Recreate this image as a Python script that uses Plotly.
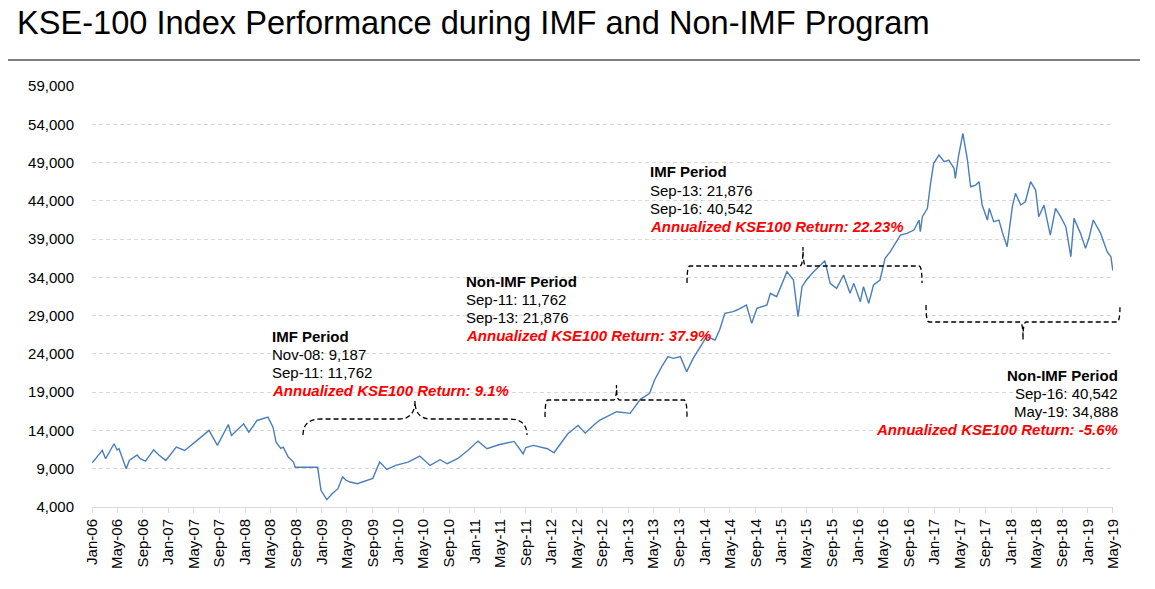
import plotly.graph_objects as go

# ---- data (KSE-100 index level) ----
dates = [
    "2006-01-02", "2006-02-19", "2006-03-07", "2006-04-16", "2006-05-01", "2006-05-10", "2006-06-13", "2006-06-28",
    "2006-08-04", "2006-08-19", "2006-09-13", "2006-10-22", "2006-11-16", "2006-12-19", "2007-02-07", "2007-03-19", "2007-05-07",
    "2007-07-13", "2007-08-22", "2007-10-13", "2007-10-28", "2007-12-25", "2008-01-19", "2008-02-27",
    "2008-04-19", "2008-05-13", "2008-05-28", "2008-06-19", "2008-07-01", "2008-07-25", "2008-08-19", "2008-08-27",
    "2008-12-12", "2008-12-28", "2009-01-25", "2009-02-19", "2009-03-19", "2009-04-10", "2009-04-25", "2009-05-16",
    "2009-06-19", "2009-08-07", "2009-09-01", "2009-10-04", "2009-11-07", "2009-12-19", "2010-02-16", "2010-04-13",
    "2010-06-01", "2010-07-19", "2010-08-22", "2010-10-10", "2010-11-28", "2011-01-16", "2011-02-28",
    "2011-04-25", "2011-07-07", "2011-08-19", "2011-09-01", "2011-10-07", "2011-12-13", "2012-01-13",
    "2012-03-19", "2012-05-07", "2012-06-10", "2012-07-28", "2012-08-19", "2012-11-07", "2013-01-10",
    "2013-02-28", "2013-04-13", "2013-05-07", "2013-06-10", "2013-07-10", "2013-08-04", "2013-09-07",
    "2013-10-07", "2013-11-07", "2013-12-10", "2014-01-10", "2014-02-19", "2014-03-13", "2014-04-07",
    "2014-05-16", "2014-06-04", "2014-07-19", "2014-08-13", "2014-09-07", "2014-10-25", "2014-11-10",
    "2014-12-10", "2015-01-04", "2015-01-28", "2015-02-28", "2015-03-22", "2015-04-10", "2015-05-01",
    "2015-06-04", "2015-06-28", "2015-07-28", "2015-08-22", "2015-09-22", "2015-10-25", "2015-11-25",
    "2015-12-13", "2016-01-13", "2016-01-28", "2016-02-22", "2016-03-16", "2016-04-16", "2016-05-10",
    "2016-06-04", "2016-06-28", "2016-07-22", "2016-08-22", "2016-09-25", "2016-10-19", "2016-10-25",
    "2016-11-04", "2016-11-28", "2016-12-13", "2016-12-28", "2017-01-22", "2017-02-16", "2017-03-10",
    "2017-04-04", "2017-04-10", "2017-04-25", "2017-05-16", "2017-06-07", "2017-06-22", "2017-07-16",
    "2017-08-01", "2017-08-16", "2017-09-10", "2017-09-19", "2017-10-10", "2017-11-04", "2017-11-22",
    "2017-12-13", "2018-01-07", "2018-01-22", "2018-02-16", "2018-03-10", "2018-04-04", "2018-04-28",
    "2018-05-13", "2018-06-07", "2018-07-07", "2018-08-01", "2018-08-25", "2018-09-19", "2018-10-13",
    "2018-10-28", "2018-11-28", "2018-12-22", "2019-01-07", "2019-01-28", "2019-03-04", "2019-04-04",
    "2019-04-22", "2019-05-01",
]
kse100 = [
    9783, 11391, 10304, 12261, 11452, 11609, 9000, 10087,
    10793, 10304, 10000, 11478, 10793, 10087, 11826, 11391, 12478,
    14000, 12043, 14783, 13348, 14870, 13783, 15304,
    15739, 14435, 12478, 11668, 11826, 10522, 9870, 9187,
    9187, 6174, 4957, 5739, 6391, 7960, 7525, 7261,
    7043, 7478, 7742, 9870, 8913, 9435, 9870, 10652,
    9435, 10174, 9652, 10304, 11391, 12609, 11609,
    12130, 12565, 10957, 11762, 12043, 11609, 11087,
    13565, 14652, 13652, 14870, 15365, 16452, 16235,
    18065, 18848, 20590, 22331, 23637, 23420, 23637,
    21680, 23420, 24943, 26250, 25815, 27122, 29298,
    29515, 29734, 30387, 27993, 29952, 30387, 31911,
    31476, 33217, 34741, 33654, 28860, 32782, 33654,
    34741, 35394, 36178, 33217, 32564, 34306, 31911,
    33217, 30823, 32782, 30605, 33000, 33654, 36489,
    37350, 38447, 39531, 39749, 40184, 41490, 39967,
    41925, 43013, 46279, 48892, 49982, 49108, 49329,
    48244, 46938, 49761, 52818, 49329, 45841, 46061,
    46497, 43450, 41490, 43013, 41272, 41490, 39749,
    38008, 43230, 44979, 43450, 43883, 46497, 45411,
    41925, 43450, 39531, 43013, 41925, 40619, 36700,
    41708, 39749, 37788, 39100, 41490, 39749, 37350,
    36700, 34900,
]
y_tick_values = [4000, 9000, 14000, 19000, 24000, 29000, 34000, 39000, 44000, 49000, 54000, 59000]

title_text = "KSE-100 Index Performance during IMF and Non-IMF Program"
period_texts = [
    ["IMF Period", "Nov-08: 9,187", "Sep-11: 11,762", "Annualized KSE100 Return: 9.1%"],
    ["Non-IMF Period", "Sep-11: 11,762", "Sep-13: 21,876", "Annualized KSE100 Return: 37.9%"],
    ["IMF Period", "Sep-13: 21,876", "Sep-16: 40,542", "Annualized KSE100 Return: 22.23%"],
    ["Non-IMF Period", "Sep-16: 40,542", "May-19: 34,888", "Annualized KSE100 Return: -5.6%"],
]

# ---- layout helpers (pixel box of the plot area) ----
W, H = 1155, 589
L, R, T, B = 92, 1113, 86, 507
FONT = "Arial, 'Liberation Sans', sans-serif"


def fx(px):
    return (px - L) / (R - L)


def fy(py):
    return (B - py) / (B - T)


fig = go.Figure(
    go.Scatter(x=dates, y=kse100, mode="lines",
               line=dict(color="#4a7ebb", width=1.4), hoverinfo="skip")
)

fig.update_layout(
    width=W, height=H,
    margin=dict(l=L, r=W - R, t=T, b=H - B, pad=0),
    plot_bgcolor="white", paper_bgcolor="white",
    showlegend=False,
    font=dict(family=FONT, color="black", size=15),
    title=dict(text=title_text, font=dict(family=FONT, size=32.6, color="black"),
               xref="container", yref="container", x=17 / W, xanchor="left",
               y=1 - 23 / H, yanchor="middle"),
)

fig.update_xaxes(
    type="date", range=["2006-01-01", "2019-05-02"],
    tickmode="linear", tick0="2006-01-01", dtick="M4", tickformat="%b-%y",
    tickangle=-90, showgrid=False, zeroline=False,
    showline=True, linecolor="#d9d9d9", linewidth=1,
    ticks="outside", ticklen=5, tickcolor="#d9d9d9",
    tickfont=dict(family=FONT, size=15, color="black"),
)
fig.update_yaxes(
    range=[4000, 59000], tickmode="array", tickvals=y_tick_values, tickformat=",d",
    showgrid=True, gridcolor="#d9d9d9", griddash="4px,3px", gridwidth=1,
    zeroline=False, showline=False, ticks="", ticklabelstandoff=17,
    tickfont=dict(family=FONT, size=15, color="black"),
)

# ---- title underline ----
shapes = [dict(type="line", xref="paper", yref="paper", x0=fx(8), x1=fx(1140),
               y0=fy(60), y1=fy(60), line=dict(color="black", width=1.2))]


def brace(x0, x1, yl, ye, tx, ty, re, rt):
    p = (f"M {fx(x0)},{fy(ye)} Q {fx(x0)},{fy(yl)} {fx(x0 + re)},{fy(yl)} "
         f"L {fx(tx - rt)},{fy(yl)} Q {fx(tx)},{fy(yl)} {fx(tx)},{fy(ty)} "
         f"Q {fx(tx)},{fy(yl)} {fx(tx + rt)},{fy(yl)} "
         f"L {fx(x1 - re)},{fy(yl)} Q {fx(x1)},{fy(yl)} {fx(x1)},{fy(ye)}")
    return dict(type="path", xref="paper", yref="paper", path=p,
                line=dict(color="black", width=1.3, dash="5px,3px"))


shapes.append(brace(303, 527, 419, 435, 415, 401, 18, 16))
shapes.append(brace(545, 687, 400, 417, 616.5, 385, 3, 3))
shapes.append(brace(687, 922, 266, 283, 803, 247, 3, 3))
shapes.append(brace(926, 1120, 322, 305, 1023, 340, 3, 3))
fig.update_layout(shapes=shapes)

# ---- period annotations ----
groups = [
    (272, [336, 354, 372, 390.5], "left"),
    (466, [281, 299, 317.3, 335], "left"),
    (650, [171.7, 190, 208.3, 226.7], "left"),
    (1118, [375, 393, 411, 429], "right"),
]
annotations = []
for (gx, ys, anchor), lines in zip(groups, period_texts):
    for i, (line, yy) in enumerate(zip(lines, ys)):
        if i == 0:
            txt, col = f"<b>{line}</b>", "black"
        elif i == 3:
            txt, col = f"<b><i>{line}</i></b>", "#ff0000"
        else:
            txt, col = line, "black"
        xpx = gx - 2 if anchor == "left" else gx + 2
        annotations.append(dict(text=txt, xref="paper", yref="paper", x=fx(xpx), y=fy(yy),
                                xanchor=anchor, yanchor="middle", showarrow=False,
                                font=dict(family=FONT, size=15, color=col)))
fig.update_layout(annotations=annotations)

fig.write_html("out.html", config={"displayModeBar": False},
               post_script="document.body.style.margin='0';")
